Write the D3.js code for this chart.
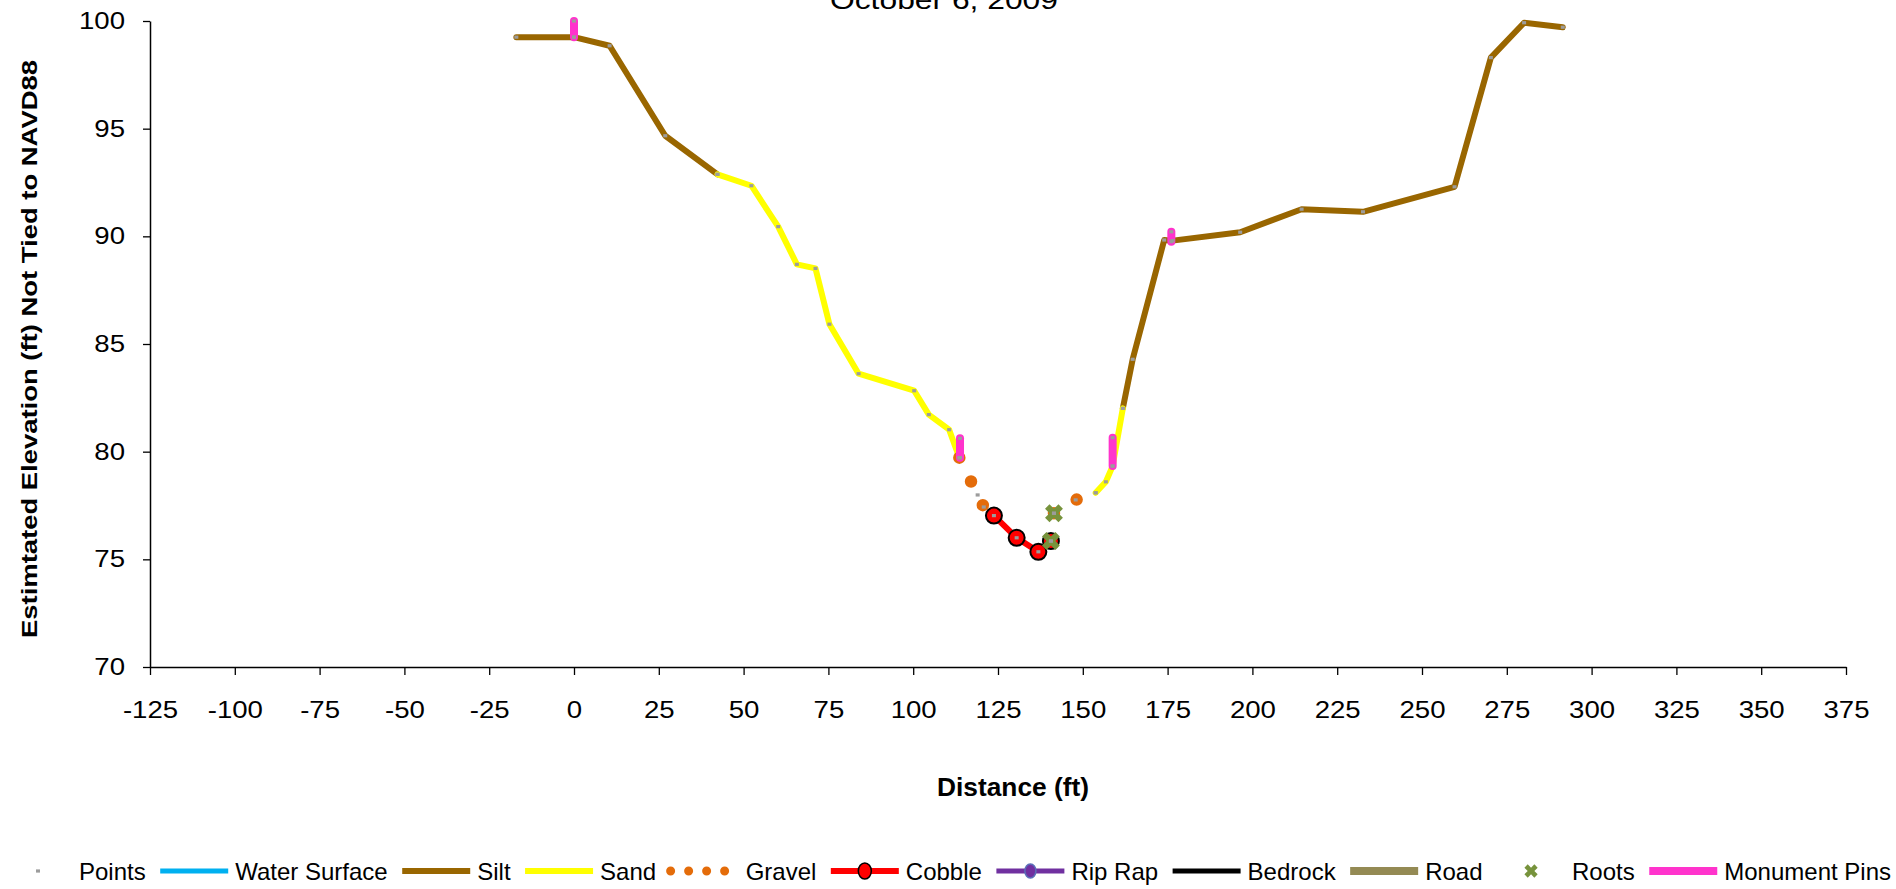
<!DOCTYPE html>
<html>
<head>
<meta charset="utf-8">
<script src="https://cdn.jsdelivr.net/npm/d3@7"></script>
<style>
  html, body { margin: 0; padding: 0; background: #fff; overflow: hidden; }
  svg { display: block; font-family: "Liberation Sans", Arial, sans-serif; }
</style>
</head>
<body>
<svg id="chart" width="1896" height="889"></svg>
<script>
// Channel cross-section surveyed October 6, 2009.
// Each entry is [distance (ft), estimated elevation (ft)].

const siltLeft   = [[-17, 99.25], [0, 99.25], [10.5, 98.85], [26.9, 94.67], [42.3, 92.88]];
const sandLeft   = [[42.3, 92.88], [52.3, 92.35], [60.2, 90.45], [65.7, 88.70], [71.2, 88.51],
                    [75.3, 85.92], [83.9, 83.62], [100.3, 82.83], [104.6, 81.72], [110.6, 81.02],
                    [113.6, 79.72]];
const gravelLeft = [[113.6, 79.72], [119.0, 77.99], [120.8, 77.43]];
const cobble     = [[123.8, 77.03], [130.5, 76.00], [136.9, 75.35], [140.6, 75.85]];
const roots      = [[140.6, 75.85], [141.5, 77.14]];
const gravelRight = [[141.5, 77.14], [147.9, 77.76], [153.8, 78.09]];
const sandRight  = [[153.8, 78.09], [156.8, 78.60], [158.8, 79.33], [161.8, 82.01]];
const siltRight  = [[161.8, 82.01], [164.7, 84.29], [174.0, 89.83], [176.5, 89.80], [196.4, 90.19],
                    [214.5, 91.26], [232.6, 91.14], [259.6, 92.30], [270.3, 98.30], [280.1, 99.92],
                    [291.5, 99.71]];
const pinLeft    = [[0, 99.25], [0, 100.0]];
const pinBankL   = [[113.8, 79.72], [113.8, 80.62]];
const pinBankR   = [[158.8, 79.33], [158.8, 80.65]];
const pinTerrace = [[176.1, 89.75], [176.1, 90.21]];

const xTickValues = [-125, -100, -75, -50, -25, 0, 25, 50, 75, 100, 125, 150, 175,
                     200, 225, 250, 275, 300, 325, 350, 375];
const yTickValues = [70, 75, 80, 85, 90, 95, 100];

const legendNames = ["Points", "Water Surface", "Silt", "Sand", "Gravel", "Cobble",
                     "Rip Rap", "Bedrock", "Road", "Roots", "Monument Pins"];

const chartTitle = "October 6, 2009";
const xTitle = "Distance (ft)";
const yTitle = "Estimtated Elevation (ft) Not Tied to NAVD88";

// ---- styling -------------------------------------------------------------
const style = {
  "Points":        { kind: "point", color: "#9c9c9c" },
  "Water Surface": { kind: "line",  color: "#00B0F0", width: 5 },
  "Silt":          { kind: "line",  color: "#996600", width: 6 },
  "Sand":          { kind: "line",  color: "#FFFF00", width: 6 },
  "Gravel":        { kind: "dots",  color: "#E46C0A", width: 12.5, gap: 26.5, legendWidth: 9, legendGap: 18 },
  "Cobble":        { kind: "lineMarker", color: "#FF0000", width: 6, r: 8, stroke: "#000" },
  "Rip Rap":       { kind: "lineMarker", color: "#7030A0", width: 5, r: 7, stroke: "#5b6fb8" },
  "Bedrock":       { kind: "line",  color: "#000000", width: 5 },
  "Road":          { kind: "line",  color: "#948A54", width: 8 },
  "Roots":         { kind: "x",     color: "#77933C" },
  "Monument Pins": { kind: "line",  color: "#FF33CC", width: 8 }
};

const svg = d3.select("#chart");
const plot = { left: 150, right: 1846, top: 21, bottom: 667 };

const x = d3.scaleLinear().domain([-125, 375]).range([plot.left, plot.right]);
const y = d3.scaleLinear().domain([70, 100]).range([plot.bottom, plot.top]);

const line = d3.line().x(d => x(d[0])).y(d => y(d[1]));

// ---- axes ----------------------------------------------------------------
const tickStretch = 1.2;

const gx = svg.append("g")
  .attr("transform", `translate(0,${plot.bottom})`)
  .call(d3.axisBottom(x).tickValues(xTickValues).tickFormat(d => String(d))
        .tickSizeInner(8).tickSizeOuter(0).tickPadding(27));

const gy = svg.append("g")
  .attr("transform", `translate(${plot.left},0)`)
  .call(d3.axisLeft(y).tickValues(yTickValues).tickFormat(d => String(d))
        .tickSizeInner(7).tickSizeOuter(0).tickPadding(18));

[gx, gy].forEach(g => {
  g.select(".domain").attr("stroke", "#000").attr("stroke-width", 1.5);
  g.selectAll(".tick line").attr("stroke", "#000").attr("stroke-width", 1.3);
  g.selectAll(".tick text")
    .attr("fill", "#000")
    .style("font-family", "'Liberation Sans', Arial, sans-serif")
    .style("font-size", "23px")
    .each(function () {
      const t = d3.select(this);
      const tx = +t.attr("x") || 0;
      t.attr("x", 0).attr("transform", `translate(${tx},0) scale(${tickStretch},1)`);
    });
});

// ---- titles ----------------------------------------------------------------
svg.append("text")
  .attr("x", 944).attr("y", 9)
  .attr("text-anchor", "middle")
  .attr("textLength", 228).attr("lengthAdjust", "spacingAndGlyphs")
  .style("font-size", "26px")
  .text(chartTitle);

svg.append("text")
  .attr("x", 1013).attr("y", 796)
  .attr("text-anchor", "middle")
  .attr("textLength", 152).attr("lengthAdjust", "spacingAndGlyphs")
  .style("font-size", "26px").style("font-weight", "bold")
  .text(xTitle);

svg.append("text")
  .attr("transform", "translate(37,349) rotate(-90)")
  .attr("text-anchor", "middle")
  .attr("textLength", 578).attr("lengthAdjust", "spacingAndGlyphs")
  .style("font-size", "22px").style("font-weight", "bold")
  .text(yTitle);

// ---- series ----------------------------------------------------------------
const marks = svg.append("g");

function drawLine(data, s) {
  marks.append("path")
    .attr("d", line(data))
    .attr("fill", "none")
    .attr("stroke", s.color)
    .attr("stroke-width", s.width)
    .attr("stroke-linejoin", "round")
    .attr("stroke-linecap", "round");
}

function drawDots(data, s) {
  marks.append("path")
    .attr("d", line(data))
    .attr("fill", "none")
    .attr("stroke", s.color)
    .attr("stroke-width", s.width)
    .attr("stroke-linecap", "round")
    .attr("stroke-dasharray", `0 ${s.gap}`);
}

const xMarker = d3.symbol().type(d3.symbolCross);

function drawRoots(data, s, size) {
  marks.selectAll(null).data(data).enter().append("path")
    .attr("d", xMarker.size(size)())
    .attr("transform", d => `translate(${x(d[0])},${y(d[1])}) rotate(45)`)
    .attr("fill", s.color);
}

drawLine(siltLeft, style["Silt"]);
drawLine(siltRight, style["Silt"]);
drawLine(sandLeft, style["Sand"]);
drawLine(sandRight, style["Sand"]);
drawDots(gravelLeft, style["Gravel"]);
drawDots(gravelRight, style["Gravel"]);

drawLine(cobble, style["Cobble"]);
marks.selectAll(null).data(cobble).enter().append("circle")
  .attr("cx", d => x(d[0])).attr("cy", d => y(d[1]))
  .attr("r", style["Cobble"].r)
  .attr("fill", style["Cobble"].color)
  .attr("stroke", style["Cobble"].stroke).attr("stroke-width", 2);

drawRoots(roots, style["Roots"], 200);

[pinLeft, pinBankL, pinBankR, pinTerrace].forEach(p => drawLine(p, style["Monument Pins"]));

// Survey shots sit on top of every material line.
const surveyPoints = [].concat(siltLeft, sandLeft, gravelLeft, cobble, roots, gravelRight,
                               sandRight, siltRight, pinLeft, pinBankL, pinBankR, pinTerrace);
marks.selectAll(null).data(surveyPoints).enter().append("rect")
  .attr("x", d => x(d[0]) - 2).attr("y", d => y(d[1]) - 1.6)
  .attr("width", 4).attr("height", 3.2)
  .attr("fill", style["Points"].color);

// ---- legend ----------------------------------------------------------------
const legend = svg.append("g").style("font-size", "24px");
const sampleW = 68, textGap = 7, legendY = 871, legendStart = 4, legendEnd = 1891;

const items = legendNames.map(name => {
  const g = legend.append("g");
  const t = g.append("text").attr("y", legendY + 8.5).text(name);
  return { name, g, t, w: t.node().getComputedTextLength() };
});
const used = d3.sum(items, it => sampleW + textGap + it.w);
const itemGap = (legendEnd - legendStart - used) / (items.length - 1);

let cx = legendStart;
items.forEach(it => {
  const s = style[it.name];
  const g = it.g;
  const mid = cx + sampleW / 2;
  if (s.kind === "point") {
    g.append("rect").attr("x", mid - 2).attr("y", legendY - 1.6)
      .attr("width", 4).attr("height", 3.2).attr("fill", s.color);
  } else if (s.kind === "line" || s.kind === "lineMarker") {
    g.append("line").attr("x1", cx).attr("x2", cx + sampleW)
      .attr("y1", legendY).attr("y2", legendY)
      .attr("stroke", s.color).attr("stroke-width", s.width);
    if (s.kind === "lineMarker") {
      g.append("ellipse").attr("cx", mid).attr("cy", legendY)
        .attr("rx", s.r - 1.5).attr("ry", s.r)
        .attr("fill", s.color).attr("stroke", s.stroke).attr("stroke-width", 1.5);
    }
  } else if (s.kind === "dots") {
    g.append("line").attr("x1", cx).attr("x2", cx + sampleW)
      .attr("y1", legendY).attr("y2", legendY)
      .attr("stroke", s.color).attr("stroke-width", s.legendWidth)
      .attr("stroke-linecap", "round").attr("stroke-dasharray", `0 ${s.legendGap}`);
  } else if (s.kind === "x") {
    g.append("path").attr("d", xMarker.size(110)())
      .attr("transform", `translate(${mid},${legendY}) rotate(45)`)
      .attr("fill", s.color);
  }
  it.t.attr("x", cx + sampleW + textGap);
  cx += sampleW + textGap + it.w + itemGap;
});
</script>
</body>
</html>
